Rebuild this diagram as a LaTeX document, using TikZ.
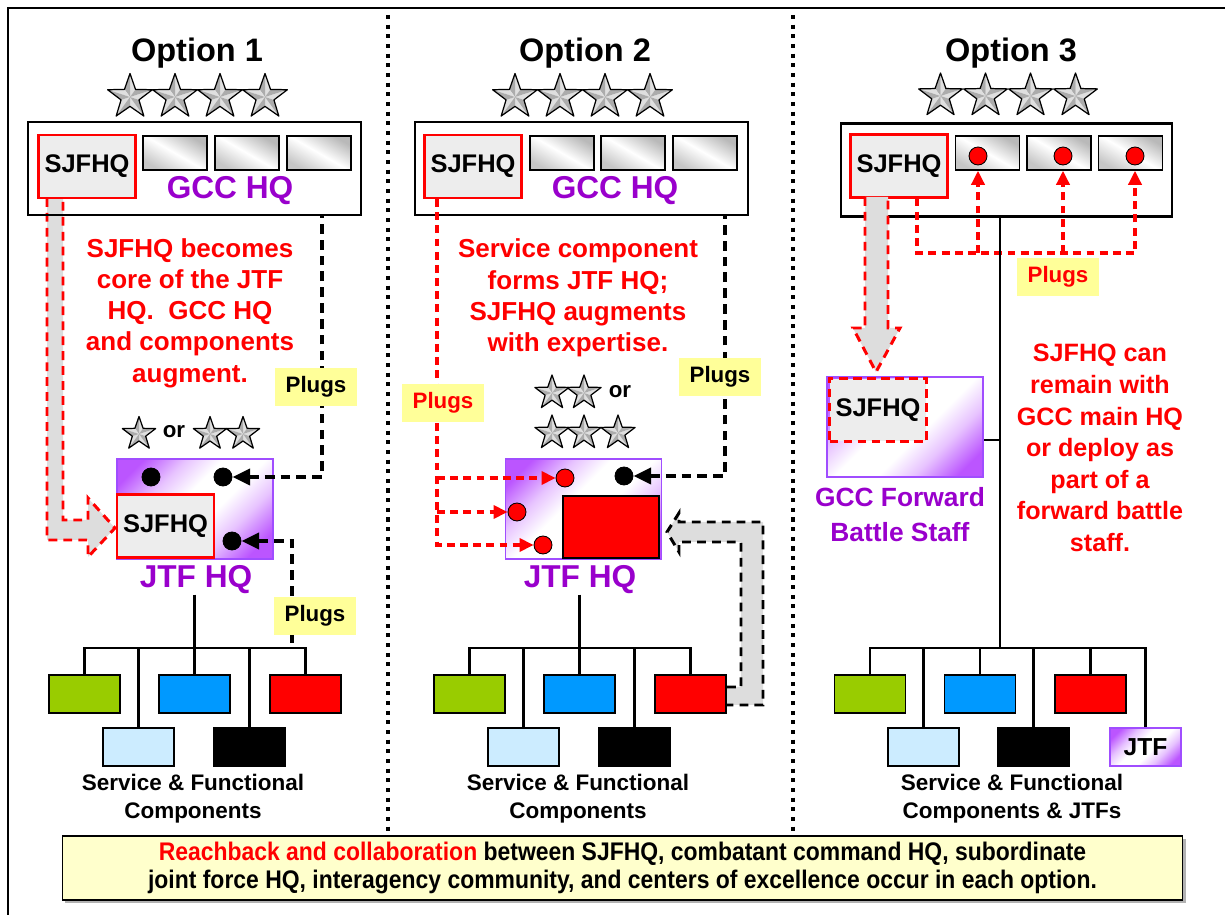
\documentclass[tikz,border=0pt]{standalone}
\usepackage{fontspec}
\setmainfont{Liberation Sans}
\newfontfamily\schmal[FakeStretch=0.9]{Liberation Sans}
\usetikzlibrary{arrows.meta}
\definecolor{gccpurple}{HTML}{9900CC}
\definecolor{jtfrand}{HTML}{A04DFF}
\definecolor{jtfecke}{HTML}{BB55FF}
\colorlet{jtfmitte}{jtfecke!35!white}
\definecolor{kgruen}{HTML}{99CC00}
\definecolor{kblau}{HTML}{0099FF}
\definecolor{khellblau}{HTML}{CCECFF}
\definecolor{plugsgelb}{HTML}{FFFF99}
\definecolor{kastengelb}{HTML}{FFFFCC}
\definecolor{pfeilgrau}{HTML}{DDDDDD}
\pgfdeclarehorizontalshading{jtfverlauf}{100bp}{color(0bp)=(jtfecke); color(22bp)=(jtfecke); color(34bp)=(jtfmitte); color(44bp)=(white); color(56bp)=(white); color(66bp)=(jtfmitte); color(78bp)=(jtfecke); color(100bp)=(jtfecke)}
\begin{document}
\begin{tikzpicture}[x=0.02cm,y=-0.02cm,>=latex,
  kopf/.style={font=\fontsize{18.5}{22}\selectfont\bfseries},
  hqtext/.style={font=\fontsize{18}{22}\selectfont\bfseries,text=gccpurple,inner sep=0},
  rottext/.style={font=\fontsize{14.8}{17.8}\selectfont\bfseries,text=red,align=center},
  fusstext/.style={font=\fontsize{12.8}{16}\selectfont\bfseries,align=center},
  klein/.style={font=\fontsize{12.7}{14}\selectfont\bfseries,inner sep=0},
  hqkasten/.style={draw,line width=1.4pt,minimum width=6.66cm,minimum height=1.86cm},
  sjfhq/.style={draw=red,line width=1.2pt,fill=gray!14,minimum width=1.94cm,minimum height=1.26cm,font=\fontsize{14.5}{16}\selectfont\bfseries},
  fach/.style={draw,line width=0.9pt,left color=gray!55,right color=gray!45,middle color=white,shading angle=-30,minimum width=1.28cm,minimum height=0.68cm},
  verlauf/.style={shade,shading=jtfverlauf,shading angle=-45},
  jtfkasten/.style={draw=jtfrand,line width=1pt,verlauf,minimum width=3.12cm,minimum height=2cm},
  knopf/.style={circle,draw,line width=0.5pt,fill=black,minimum size=0.36cm,inner sep=0},
  rotknopf/.style={knopf,fill=red},
  plugs/.style={fill=plugsgelb,minimum width=1.66cm,minimum height=0.76cm,inner sep=0,font=\fontsize{12.7}{14}\selectfont\bfseries},
  komp/.style={draw,line width=0.9pt,minimum width=1.42cm,minimum height=0.76cm,inner sep=0},
  strich/.style={line width=1.5pt},
  trenner/.style={line width=2.3pt,dash pattern=on 2.3pt off 3.2pt},
  schwarzplug/.style={line width=2.2pt,dash pattern=on 5.5pt off 3.5pt},
  rotplug/.style={red,line width=1.8pt,dash pattern=on 4.5pt off 3pt},
  grauerpfeil/.style={fill=pfeilgrau,draw=red,line width=1.7pt,dash pattern=on 5pt off 3.5pt},
  spitze/.tip={Triangle[length=10pt,width=9pt]},
  rotspitze/.tip={Triangle[length=8pt,width=7.5pt]}]
\useasboundingbox (0,0) rectangle (1225,915);
\def\stern#1#2#3{
  \foreach \i in {0,...,4}{
    \fill[gray!25] (#1,#2) -- +({-90+72*\i}:#3) -- +({-54+72*\i}:{0.4*#3}) -- cycle;
    \fill[gray!65] (#1,#2) -- +({-90+72*\i}:#3) -- +({-126+72*\i}:{0.4*#3}) -- cycle;
  }
  \draw[line width=0.7pt,line join=round] (#1,#2) +(-90:#3)
    \foreach \i in {1,...,9}{ -- +({-90+36*\i}:{#3*(0.7+0.3*cos(180*\i))}) } -- cycle;
}
\def\baum#1#2{
  \node[komp,fill=kgruen] (#1gruen) at ({#2-110},694) {};
  \node[komp,fill=khellblau] (#1hell) at ({#2-56},747) {};
  \node[komp,fill=kblau] (#1blau) at (#2,694) {};
  \node[komp,fill=black] (#1schwarz) at ({#2+55},747) {};
  \node[komp,fill=red] (#1rot) at ({#2+111},694) {};
  \coordinate (#1bus) at (#2,648);
  \draw[strich] (#1gruen.north) |- (#1bus) -| (#1rot.north);
  \draw[strich] (#1blau.north) -- (#1bus);
  \draw[strich] (#1hell.north) -- (#1hell.north |- #1bus);
  \draw[strich] (#1schwarz.north) -- (#1schwarz.north |- #1bus);
}
% rahmen
\draw[line width=1.1pt] (8,915) -- (8,8) -- (1225,8);
\draw[trenner] (388,15) -- (388,835);
\draw[trenner] (793,15) -- (793,835);
% option 1
\node[kopf,anchor=base] (titel1) at (197,62) {Option 1};
\foreach \x in {130,175,220,265} \stern{\x}{97}{23.5};
\draw[grauerpfeil] (47,198) -- (47,540) -- (88,540) -- (88,557) -- (115,528) -- (88,498) -- (88,520) -- (63,520) -- (63,198);
\node[hqkasten] (gcc1) at (194.5,168.5) {};
\node[sjfhq] (sj1) at (87,166.5) {SJFHQ};
\foreach \x [count=\n] in {175,247,319} \node[fach] (fach1\n) at (\x,153) {};
\node[hqtext] (gcctext1) at (230,191) {GCC HQ};
\node[rottext] (info1) at (190,313) {SJFHQ becomes\\core of the JTF\\HQ.~ GCC HQ\\and components\\augment.};
\stern{139}{434}{17.5};
\node[klein] (oder1) at (174,432) {or};
\stern{210}{434}{17.5};
\stern{243}{434}{17.5};
\node[jtfkasten] (jtf1) at (195,509) {};
\node[sjfhq] (sj1b) at (165.5,526) {SJFHQ};
\node[knopf] (k1a) at (151,477) {};
\node[knopf] (k1b) at (223,477) {};
\node[knopf] (k1c) at (232,541) {};
\node[hqtext] (jtftext1) at (196,580) {JTF HQ};
\baum{a}{194.5}
\draw[strich] (jtftext1.south -| abus) -- (abus);
\coordinate (pl1a) at (322,0);
\coordinate (pl1b) at (292,648);
\draw[schwarzplug,spitze-] (k1b.east) -| (gcc1.south -| pl1a);
\draw[schwarzplug,spitze-] (k1c.east) -| (pl1b);
\node[plugs] (plugs1a) at (316,387) {Plugs};
\node[plugs] (plugs1b) at (315,616) {Plugs};
\node[fusstext] (fuss1) at (193,799) {Service \& Functional\\Components};
% option 2
\node[kopf,anchor=base] (titel2) at (585,62) {Option 2};
\foreach \x in {515,560,605,650} \stern{\x}{97}{23.5};
\node[hqkasten] (gcc2) at (581.5,168.5) {};
\node[sjfhq] (sj2) at (473,166.5) {SJFHQ};
\foreach \x [count=\n] in {562,633,705} \node[fach] (fach2\n) at (\x,153) {};
\node[hqtext] (gcctext2) at (615,191) {GCC HQ};
\node[rottext] (info2) at (578,298) {Service component\\forms JTF HQ;\\SJFHQ augments\\with expertise.};
\stern{552}{393}{18};
\stern{584}{393}{18};
\node[klein] (oder2) at (620,392) {or};
\stern{552}{433}{18};
\stern{584}{433}{18};
\stern{618}{433}{18};
\draw[grauerpfeil,draw=black] (727,687) -- (741,687) -- (741,542) -- (679,542) -- (679,552) -- (667,532) -- (679,513) -- (679,522) -- (763,522) -- (763,705) -- (727,705);
\node[jtfkasten] (jtf2) at (583.5,509) {};
\node[draw,line width=1.3pt,fill=red,minimum width=1.92cm,minimum height=1.24cm] (rot2) at (611,527) {};
\node[rotknopf] (rk2a) at (565,478) {};
\node[rotknopf] (rk2b) at (517,512) {};
\node[rotknopf] (rk2c) at (543,545) {};
\node[knopf] (k2) at (624,476) {};
\node[hqtext] (jtftext2) at (580,580) {JTF HQ};
\baum{b}{579.5}
\draw[strich] (jtftext2.south -| bbus) -- (bbus);
\coordinate (pl2r) at (725,0);
\coordinate (pl2l) at (437,0);
\draw[schwarzplug,spitze-] (k2.east) -| (gcc2.south -| pl2r);
\draw[rotplug,-rotspitze] (sj2.south -| pl2l) |- (rk2c.west);
\draw[rotplug,-rotspitze] (rk2a.west -| pl2l) -- (rk2a.west);
\draw[rotplug,-rotspitze] (rk2b.west -| pl2l) -- (rk2b.west);
\node[plugs] (plugs2r) at (720,377) {Plugs};
\node[plugs,text=red] (plugs2l) at (443,403) {Plugs};
\node[fusstext] (fuss2) at (578,799) {Service \& Functional\\Components};
% option 3
\node[kopf,anchor=base] (titel3) at (1011,62) {Option 3};
\foreach \x in {940.5,985.5,1030.5,1075.5} \stern{\x}{96}{23};
\node[hqkasten,minimum width=6.62cm] (gcc3) at (1006.5,170) {};
\node[sjfhq] (sj3) at (899,166) {SJFHQ};
\foreach \x [count=\n] in {987.5,1059,1130.5} \node[fach] (fach3\n) at (\x,153) {};
\node[rotknopf] (rk3a) at (978,156) {};
\node[rotknopf] (rk3b) at (1063,156) {};
\node[rotknopf] (rk3c) at (1135,156) {};
\coordinate (pl3) at (917,253);
\draw[rotplug,-rotspitze] (sj3.south -| pl3) -- (pl3) -| (rk3c |- fach33.south);
\draw[rotplug,-rotspitze] (pl3 -| rk3a) -- (rk3a |- fach31.south);
\draw[rotplug,-rotspitze] (pl3 -| rk3b) -- (rk3b |- fach32.south);
\coordinate (t3) at (1000,648);
\coordinate (ast3) at (1000,440);
\draw[strich] (gcc3.south -| t3) -- (t3);
\node[plugs,text=red] (plugs3) at (1058,277) {Plugs};
\draw[grauerpfeil] (865,197) -- (865,328) -- (853,328) -- (876,372) -- (900,328) -- (888,328) -- (888,197);
\node[jtfkasten] (vorn3) at (905,427) {};
\node[sjfhq,line width=1.7pt,dash pattern=on 5pt off 3pt] (sj3b) at (878,410) {SJFHQ};
\draw[strich] (ast3) -- (ast3 -| vorn3.east);
\node[hqtext,align=center,font=\fontsize{15}{20}\selectfont\bfseries] (vorntext3) at (900,515) {GCC Forward\\Battle Staff};
\node[rottext,font=\fontsize{14.3}{18}\selectfont\bfseries] (info3) at (1100,448) {SJFHQ can\\remain with\\GCC main HQ\\or deploy as\\part of a\\forward battle\\staff.};
\node[komp,fill=kgruen] (gruen3) at (870,694) {};
\node[komp,fill=khellblau] (hell3) at (923.5,747) {};
\node[komp,fill=kblau] (blau3) at (980,694) {};
\node[komp,fill=black] (schwarz3) at (1033.5,747) {};
\node[komp,fill=red] (rot3) at (1090.5,694) {};
\node[komp,draw=jtfrand,verlauf,font=\fontsize{14}{16}\selectfont\bfseries] (jtf3) at (1145.5,747) {JTF};
\draw[strich] (gruen3.north) |- (t3) -| (jtf3.north);
\foreach \k in {hell3,blau3,schwarz3,rot3} \draw[strich] (\k.north) -- (\k.north |- t3);
\node[fusstext] (fuss3) at (1012,799) {Service \& Functional\\Components \& JTFs};
% unten
\fill[gray!60] (65,839) rectangle (1186,903);
\node[draw,fill=kastengelb,line width=0.6pt,minimum width=22.42cm,minimum height=1.28cm,align=center,font=\schmal\fontsize{14.5}{15.5}\selectfont\bfseries] (schluss) at (622.5,868) {\textcolor{red}{Reachback and collaboration} between SJFHQ, combatant command HQ, subordinate\\joint force HQ, interagency community, and centers of excellence occur in each option.};
\end{tikzpicture}
\end{document}
